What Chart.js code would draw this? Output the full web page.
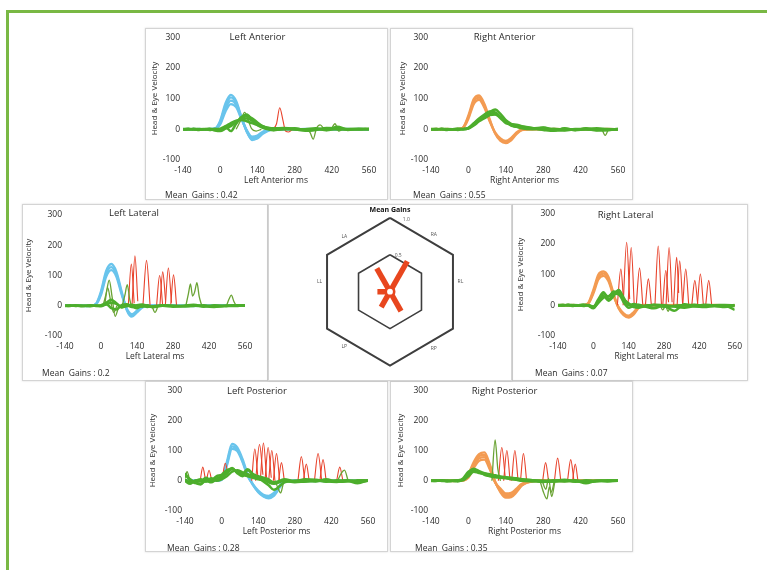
<!DOCTYPE html>
<html><head><meta charset="utf-8">
<script src="https://cdn.jsdelivr.net/npm/chart.js@4.4.1/dist/chart.umd.min.js"></script>
<style>
html,body{margin:0;padding:0;background:#fff;width:767px;height:570px;overflow:hidden;font-family:"Open Sans","DejaVu Sans",sans-serif}
#frame{position:absolute;left:6px;top:10px;width:800px;height:600px;border-top:3px solid #79b844;border-left:3px solid #79b844}
.box{position:absolute;border:1px solid #d4d4d4;box-shadow:0 0 2px rgba(0,0,0,0.15);background:#fff;box-sizing:border-box}
.box canvas{position:absolute;left:0;top:0}
.gain{position:absolute;font-size:8.5px;color:#2b2b2b;white-space:pre;line-height:12px}
</style></head><body>
<div id="frame"></div>
<script>
// ---------- DATA ----------
const T = [-140,-120,-100,-80,-60,-40,-20, 0,20,40,60,80,100,120,140,160,180,200, 240,280,320,360,400,440,480,520,560];
const xTicks = [-140,0,140,280,420,560];
const yTicks = [-100,0,100,200,300];
const panelKeys = ['LA','RA','LL','RL','LP','RP'];
const panelNames = ['Left Anterior','Right Anterior','Left Lateral','Right Lateral','Left Posterior','Right Posterior'];
const meanGains = [0.42,0.55,0.2,0.07,0.28,0.35];

// Left Anterior
const LA_head = [
 [0,0,1,0,0,0,2, 28,85,112,92,40,-8,-33,-30,-15,-5,-1, 1,0,-1,0,1,0,-1,0,0],
 [0,1,0,0,-1,0,2, 24,76,104,86,38,-7,-35,-28,-12,-4,0, 0,1,0,-1,0,1,0,0,0],
 [1,0,0,1,0,1,2, 20,66,93,80,36,-5,-29,-25,-10,-3,1, 0,0,1,0,-1,0,0,1,0],
 [0,0,0,0,0,0,1, 16,58,82,72,33,-3,-24,-20,-8,-2,0, 1,0,0,1,0,0,1,0,0]];
const LA_eye = [
 [0,2,-1,1,0,-2,1, 0,6,16,26,33,35,28,18,9,4,2, 0,3,-2,1,-3,2,0,1,0],
 [1,-1,2,0,-1,1,-4, -6,2,10,24,36,42,36,22,10,3,-2, 1,0,-5,-2,4,3,-2,2,1],
 [-1,0,1,-2,0,2,-2, -4,8,-6,18,40,48,30,14,5,0,-3, 2,-1,0,3,-2,8,0,-1,2],
 [0,1,0,-1,1,0,1, 2,10,20,28,30,26,20,14,8,5,3, 4,2,-1,0,2,-1,1,0,0]];
const LA_eyeSac = [
 [[60,0],[78,30],[92,55],[106,28],[118,2],[135,-6],[155,0]],
 [[325,0],[338,-10],[350,-32],[362,2],[376,14],[392,0]],
 [[418,0],[432,18],[446,-6],[460,0]]];
const LA_redSac = [
 [[198,0],[212,18],[224,70],[236,30],[246,-6],[258,-9],[272,0]]];

// Right Anterior
const RA_head = [
 [0,0,1,0,0,0,6, 45,98,110,82,32,-14,-38,-45,-36,-16,-3, 0,1,0,-1,0,0,1,0,0],
 [0,1,0,0,-1,0,5, 40,90,103,76,28,-12,-35,-42,-32,-13,-2, 1,0,-1,0,0,1,0,0,0],
 [1,0,0,1,0,1,4, 34,82,96,70,25,-10,-30,-38,-28,-10,-1, 0,0,1,0,-1,0,0,1,0]];
const RA_eye = [
 [0,2,-1,1,0,-2,1, 5,20,35,48,58,55,40,24,12,8,3, 0,5,-3,2,-2,3,0,-2,0],
 [1,-1,2,0,-1,1,0, 3,15,30,44,56,64,50,30,18,12,5, 2,-2,-5,3,-3,0,-4,-3,2],
 [-1,0,1,-2,0,2,1, 4,18,32,40,50,50,36,20,16,15,10, 4,0,2,-2,1,-1,3,0,-1],
 [0,0,1,-1,0,1,0, 2,12,26,36,46,48,40,28,14,8,8, 3,6,-2,-4,0,2,-2,1,0]];
const RA_eyeSac = [
 [[500,0],[512,-20],[524,0]]];
const RA_redSac = [];

// Left Lateral
const LL_head = [
 [0,0,1,0,0,0,6, 48,115,138,112,48,-14,-36,-22,-6,0,1, 0,0,-1,0,1,0,0,0,0],
 [0,1,0,0,-1,0,5, 42,106,128,104,43,-11,-32,-19,-5,0,0, 1,0,0,-1,0,0,1,0,0],
 [1,0,0,1,0,1,4, 36,96,118,96,38,-9,-28,-16,-3,1,0, 0,1,0,0,-1,0,0,0,0]];
const LL_eye = [
 [0,2,-1,1,0,-2,1, 0,4,10,6,-4,-2,3,0,-3,2,-5, 0,-3,-2,1,-3,2,0,1,0],
 [1,-1,2,0,-1,1,0, -2,6,-8,-12,2,5,-2,-8,0,-4,-2, 1,0,-2,-1,2,-3,-2,2,1],
 [-1,0,1,-2,0,2,-1, 2,10,20,8,-6,2,-4,2,4,0,-3, 2,-1,0,3,-2,-4,0,-1,2]];
const LL_eyeSac = [
 [[8,0],[20,40],[32,85],[43,30],[55,-35],[67,-10],[80,0]],
 [[82,0],[93,35],[102,70],[112,20],[122,-6],[135,0]],
 [[14,0],[26,60],[37,18],[49,-22],[62,0]],
 [[198,0],[210,-22],[222,0]],
 [[330,0],[340,40],[348,72],[356,32],[364,45],[373,76],[382,30],[392,0]],
 [[488,0],[498,22],[507,35],[516,16],[526,0]]];
const LL_redSac = [
 [[106,0],[118,138],[129,8]],
 [[121,5],[132,165],[143,15]],
 [[163,0],[177,150],[191,0]],
 [[216,0],[228,100],[240,0]],
 [[229,0],[240,112],[251,18]],
 [[250,0],[262,125],[274,10]],
 [[271,0],[282,102],[294,0]]];

// Right Lateral
const RL_head = [
 [0,0,1,0,0,0,8, 50,100,110,92,38,-10,-32,-40,-30,-8,0, 1,0,-1,0,1,0,0,0,0],
 [0,1,0,0,-1,0,6, 44,92,103,85,34,-8,-30,-38,-26,-6,0, 0,1,0,-1,0,0,1,0,0],
 [1,0,0,1,0,1,5, 38,84,96,78,30,-6,-26,-34,-22,-4,1, 0,0,1,0,-1,0,0,0,0]];
const RL_eye = [
 [0,2,-1,1,0,-2,1, -5,20,42,20,35,48,20,5,-5,2,-3, 0,-3,-2,1,-3,2,0,1,0],
 [1,-1,2,0,-1,1,0, -8,10,38,28,45,40,10,-8,-2,-4,-2, 1,-5,-2,-1,2,-3,-2,-6,1],
 [-1,0,1,-2,0,2,-1, -10,15,30,15,30,50,25,0,4,0,-3, 2,-1,-18,3,-2,-4,0,-1,-15],
 [0,0,1,-1,0,1,0, -4,8,25,30,38,35,18,6,-6,-8,-4, -10,0,-4,-8,-3,-6,-2,-4,-2]];
const RL_eyeSac = [
 [[265,0],[275,-15],[286,-2],[296,-20],[306,0]]];
const RL_redSac = [
 [[95,0],[109,118],[120,10]],
 [[118,0],[132,205],[144,20]],
 [[138,10],[150,188],[162,0]],
 [[170,0],[183,121],[196,0]],
 [[206,0],[218,86],[230,0]],
 [[244,0],[257,193],[270,0]],
 [[275,0],[287,113],[298,10]],
 [[288,0],[300,188],[312,10]],
 [[318,0],[330,156],[338,40]],
 [[332,0],[342,145],[354,0]],
 [[354,0],[366,118],[378,0]],
 [[390,0],[402,81],[414,0]],
 [[412,0],[424,102],[436,0]],
 [[445,0],[457,81],[469,0]]];

// Left Posterior
const LP_head = [
 [0,0,1,0,0,0,1, 5,62,122,110,72,22,-12,-38,-52,-58,-50, -5,0,-1,0,1,0,0,0,0],
 [0,1,0,0,-1,0,1, 4,56,114,104,66,18,-14,-36,-50,-55,-46, -3,1,0,-1,0,0,1,0,0],
 [1,0,0,1,0,1,0, 3,50,106,98,62,15,-12,-32,-46,-50,-40, -2,0,1,0,-1,0,0,0,0]];
const LP_eye = [
 [20,5,-5,-10,0,-5,5, 10,25,38,30,20,15,10,5,3,0,-5, 2,-3,-2,1,-3,2,0,-4,0],
 [25,0,-8,-12,5,0,8, 15,30,42,25,15,35,20,10,5,-5,-10, 0,-5,-2,-1,2,-3,-2,2,1],
 [-1,-10,1,-2,10,2,15, 20,35,40,28,25,38,22,15,10,5,-8, 5,-1,5,3,-2,-4,0,-8,2],
 [5,-5,0,5,-3,8,0, 5,15,30,35,28,22,15,8,-2,-15,-30, -5,0,2,-2,5,-3,2,-2,0]];
const LP_eyeSac = [
 [[-140,8],[-132,30],[-122,2]],
 [[205,0],[216,-25],[226,-40],[236,-10],[246,0]],
 [[444,0],[458,25],[470,35],[484,0]]];
const LP_redSac = [
 [[-82,0],[-72,45],[-62,5]],
 [[-58,0],[-48,35],[-38,0]],
 [[2,5],[14,58],[26,15]],
 [[115,0],[127,105],[139,10]],
 [[130,0],[145,120],[158,20]],
 [[148,0],[160,125],[172,10]],
 [[166,0],[178,110],[190,10]],
 [[180,0],[192,100],[204,0]],
 [[198,0],[210,90],[222,0]],
 [[218,0],[229,60],[240,0]],
 [[292,0],[305,80],[318,0]],
 [[313,0],[324,55],[335,0]],
 [[355,0],[369,90],[383,0]],
 [[376,0],[388,70],[400,0]],
 [[440,0],[452,45],[464,0]]];

// Right Posterior
const RP_head = [
 [0,0,1,0,0,0,2, 22,62,88,94,55,-2,-38,-56,-54,-38,-16, -2,0,-1,0,1,0,0,0,0],
 [0,1,0,0,-1,0,2, 18,56,82,86,48,-4,-34,-52,-50,-34,-14, -1,1,0,-1,0,0,1,0,0],
 [1,0,0,1,0,1,1, 14,50,74,78,42,-6,-30,-47,-46,-30,-12, 0,0,1,0,-1,0,0,0,0],
 [0,0,0,0,0,0,1, 10,42,66,70,38,-5,-26,-42,-40,-26,-10, 0,1,0,0,0,1,0,0,0]];
const RP_eye = [
 [0,2,-1,1,0,-2,5, 25,40,32,25,20,18,14,12,10,8,5, 2,-3,-2,1,-3,2,0,1,0],
 [1,-1,2,0,-1,1,8, 30,38,28,22,18,14,12,10,8,6,4, 2,0,-2,-1,2,-3,-2,2,1],
 [-1,0,1,-2,0,2,3, 20,35,30,20,15,12,10,8,6,4,2, 1,-1,0,3,-2,-4,0,-1,2],
 [0,0,1,-1,0,1,2, 15,30,26,24,22,16,12,10,6,3,0, -2,-4,2,-2,0,-8,0,-2,0]];
const RP_eyeSac = [
 [[88,0],[100,135],[110,40],[120,0]],
 [[268,0],[282,-40],[294,-60],[303,-20],[312,-52],[324,0]],
 [[276,0],[290,-28],[300,8],[310,-38],[322,0]]];
const RP_redSac = [
 [[112,0],[125,110],[138,10]],
 [[132,0],[144,100],[156,0]],
 [[162,0],[174,100],[186,0]],
 [[195,0],[206,90],[218,0]],
 [[278,0],[289,60],[300,0]],
 [[322,0],[334,75],[346,0]],
 [[371,0],[383,70],[395,0]],
 [[390,0],[400,55],[410,0]]];

// Mean-gains hexagon
const hexAxes = ['RA','RL','RP','LP','LL','LA'];
const hexRings = [0.5, 1.0];
const ringLabels = ['0.5','1.0'];

// ---------- BUILD ----------
const DATA = {
  LA:[LA_head,LA_eye,LA_eyeSac,LA_redSac], RA:[RA_head,RA_eye,RA_eyeSac,RA_redSac],
  LL:[LL_head,LL_eye,LL_eyeSac,LL_redSac], RL:[RL_head,RL_eye,RL_eyeSac,RL_redSac],
  LP:[LP_head,LP_eye,LP_eyeSac,LP_redSac], RP:[RP_head,RP_eye,RP_eyeSac,RP_redSac]};

// layout (px): box [left,top,w,h]; area [left,right,top,bottom] in canvas px
const GEOM = {
  LA:{box:[145,28,243,172], area:[37,223,8,131], titleY:7.7, yTitleX:9,  gain:[19,166]},
  RA:{box:[390,28,243,172], area:[40,227,8,131], titleY:7.7, yTitleX:12, gain:[22,166]},
  LL:{box:[22,204,246,177], area:[42,222,10,131], titleY:8,  yTitleX:5.5, gain:[19,168]},
  RL:{box:[512,204,236,177], area:[45,225,6,131], titleY:7.7, yTitleX:8,  gain:[22,168]},
  LP:{box:[145,381,243,171], area:[39,222,3,129], titleY:4,  yTitleX:7,  gain:[21,166]},
  RP:{box:[390,381,243,171], area:[40,227,3,129], titleY:4,  yTitleX:10, gain:[24,166]}
};
const CENTER_BOX = [268,204,244,177];

const FONT = '"Open Sans","DejaVu Sans",sans-serif';
const TXT = '#2b2b2b';
const COL = {blue:'#69c4ec', orange:'#f39b52', eye:'#4dae2c', eyeSac:'#6aa334', red:'#e8432c'};
const TITLE_SIZE = 9.5;

function series(vals){ return T.map((t,i)=>({x:t,y:vals[i]})); }
function pairs(p){ return p.map(([x,y])=>({x,y})); }
function ds(data,color,width){
  return {data,borderColor:color,backgroundColor:color,borderWidth:width,pointRadius:0,fill:false,cubicInterpolationMode:'monotone'};
}
function makeBox(b){
  const box=document.createElement('div'); box.className='box';
  Object.assign(box.style,{left:b[0]+'px',top:b[1]+'px',width:b[2]+'px',height:b[3]+'px'});
  const W=b[2]-2,H=b[3]-2;
  const cv=document.createElement('canvas'); cv.width=W; cv.height=H;
  cv.style.width=W+'px'; cv.style.height=H+'px';
  box.appendChild(cv); document.body.appendChild(box);
  return {box,cv,W,H};
}

function panel(key,idx){
  const g=GEOM[key];
  const {box,cv,W,H}=makeBox(g.box);
  const lab=document.createElement('div'); lab.className='gain';
  lab.textContent='Mean  Gains : '+meanGains[idx];
  lab.style.left=g.gain[0]+'px'; lab.style.top=(g.gain[1]-6)+'px';
  box.appendChild(lab);
  const [head,eye,eyeSac,red]=DATA[key];
  const headColor = key[0]==='L' ? COL.blue : COL.orange;
  const datasets=[];
  eye.forEach(v=>datasets.push(ds(series(v),COL.eye,2.5)));
  eyeSac.forEach(p=>datasets.push(ds(pairs(p),COL.eyeSac,1.3)));
  red.forEach(p=>datasets.push(ds(pairs(p),COL.red,1.1)));
  head.forEach(v=>datasets.push(ds(series(v),headColor,2.3)));
  const XH=26;
  const [al,ar,at,ab]=g.area;
  const th=TITLE_SIZE*0.6;
  new Chart(cv,{type:'line',data:{datasets},options:{
    responsive:false,animation:false,devicePixelRatio:1,events:[],
    layout:{padding:{left:0,right:W-ar,top:0,bottom:H-ab-XH}},
    plugins:{legend:{display:false},tooltip:{enabled:false},
      title:{display:true,text:panelNames[idx],color:TXT,font:{family:FONT,size:TITLE_SIZE,weight:'normal',lineHeight:1.2},
        padding:{top:g.titleY-th,bottom:at-g.titleY-th}}},
    scales:{
      x:{type:'linear',min:-140,max:560,
        afterBuildTicks:s=>{s.ticks=xTicks.map(v=>({value:v}));},
        grid:{display:false,drawTicks:false},border:{display:false},
        ticks:{padding:5,autoSkip:false,maxRotation:0,color:TXT,font:{family:FONT,size:8.5}},
        title:{display:true,text:panelNames[idx]+' ms',color:TXT,font:{family:FONT,size:8.5},padding:{top:0,bottom:0}},
        afterFit:s=>{s.height=XH;}},
      y:{type:'linear',min:-100,max:300,
        afterBuildTicks:s=>{s.ticks=yTicks.map(v=>({value:v}));},
        grid:{display:false,drawTicks:false},border:{display:false},
        ticks:{padding:3,color:TXT,font:{family:FONT,size:8.5}},
        title:{display:true,text:'Head & Eye Velocity',color:TXT,font:{family:FONT,size:8},padding:{top:g.yTitleX-4.8,bottom:0}},
        afterFit:s=>{s.width=al;}}
    }}});
}
panelKeys.forEach((k,i)=>panel(k,i));

// ---------- centre hexagon ----------
(function(){
  const {cv,W,H}=makeBox(CENTER_BOX);
  const K=66.7, CX=121, CY=90, TT=10;
  const gains = hexAxes.map(a=>meanGains[panelKeys.indexOf(a)]);
  const ang = i => (60-60*i)*Math.PI/180;          // spoke direction of each axis
  const datasets=[];
  datasets.push({data:[{x:0,y:0}],showLine:false,pointRadius:4.2,pointBackgroundColor:'#ffffff',pointBorderColor:'#e8461e',pointBorderWidth:2.6});
  gains.forEach((g,i)=>datasets.push({data:[{x:0,y:0},{x:g*Math.cos(ang(i)),y:g*Math.sin(ang(i))}],
    showLine:true,borderColor:'#e8461e',borderWidth:5.5,borderCapStyle:'butt',pointRadius:0}));
  hexRings.forEach(r=>{
    const R=r/Math.cos(Math.PI/6), pts=[];
    for(let k=0;k<=6;k++){const a=(90-60*k)*Math.PI/180; pts.push({x:R*Math.cos(a),y:R*Math.sin(a)});}
    datasets.push({data:pts,showLine:true,borderColor:'#3e3e3e',borderWidth:r===1?2:1.6,pointRadius:0,borderJoinStyle:'miter'});
  });
  const LABEL_ANG=[52,8,-52,-130,172,130], LABEL_R=1.13;
  const labels={id:'hexLabels',afterDatasetsDraw(chart){
    const {ctx,scales:{x,y}}=chart; ctx.save();
    ctx.fillStyle='#555'; ctx.font='5px '+FONT; ctx.textAlign='center'; ctx.textBaseline='middle';
    hexAxes.forEach((lab,i)=>{const a=LABEL_ANG[i]*Math.PI/180;
      ctx.fillText(lab,x.getPixelForValue(LABEL_R*Math.cos(a)),y.getPixelForValue(LABEL_R*Math.sin(a)));});
    hexRings.forEach((r,i)=>{const R=r/Math.cos(Math.PI/6), a=77*Math.PI/180;
      ctx.fillText(ringLabels[i],x.getPixelForValue(R*Math.cos(a)),y.getPixelForValue(R*Math.sin(a)));});
    ctx.restore();}};
  new Chart(cv,{type:'scatter',data:{datasets},plugins:[labels],options:{
    responsive:false,animation:false,devicePixelRatio:1,events:[],
    layout:{padding:0},
    plugins:{legend:{display:false},tooltip:{enabled:false},
      title:{display:true,text:'Mean Gains',color:'#111',font:{family:FONT,size:7,weight:'bold',lineHeight:1.2},padding:{top:0.8,bottom:TT-0.8-8.4}}},
    scales:{x:{type:'linear',display:false,min:-CX/K,max:(W-CX)/K},
            y:{type:'linear',display:false,min:-(H-CY)/K,max:(CY-TT)/K}}
  }});
})();
</script>
</body></html>
